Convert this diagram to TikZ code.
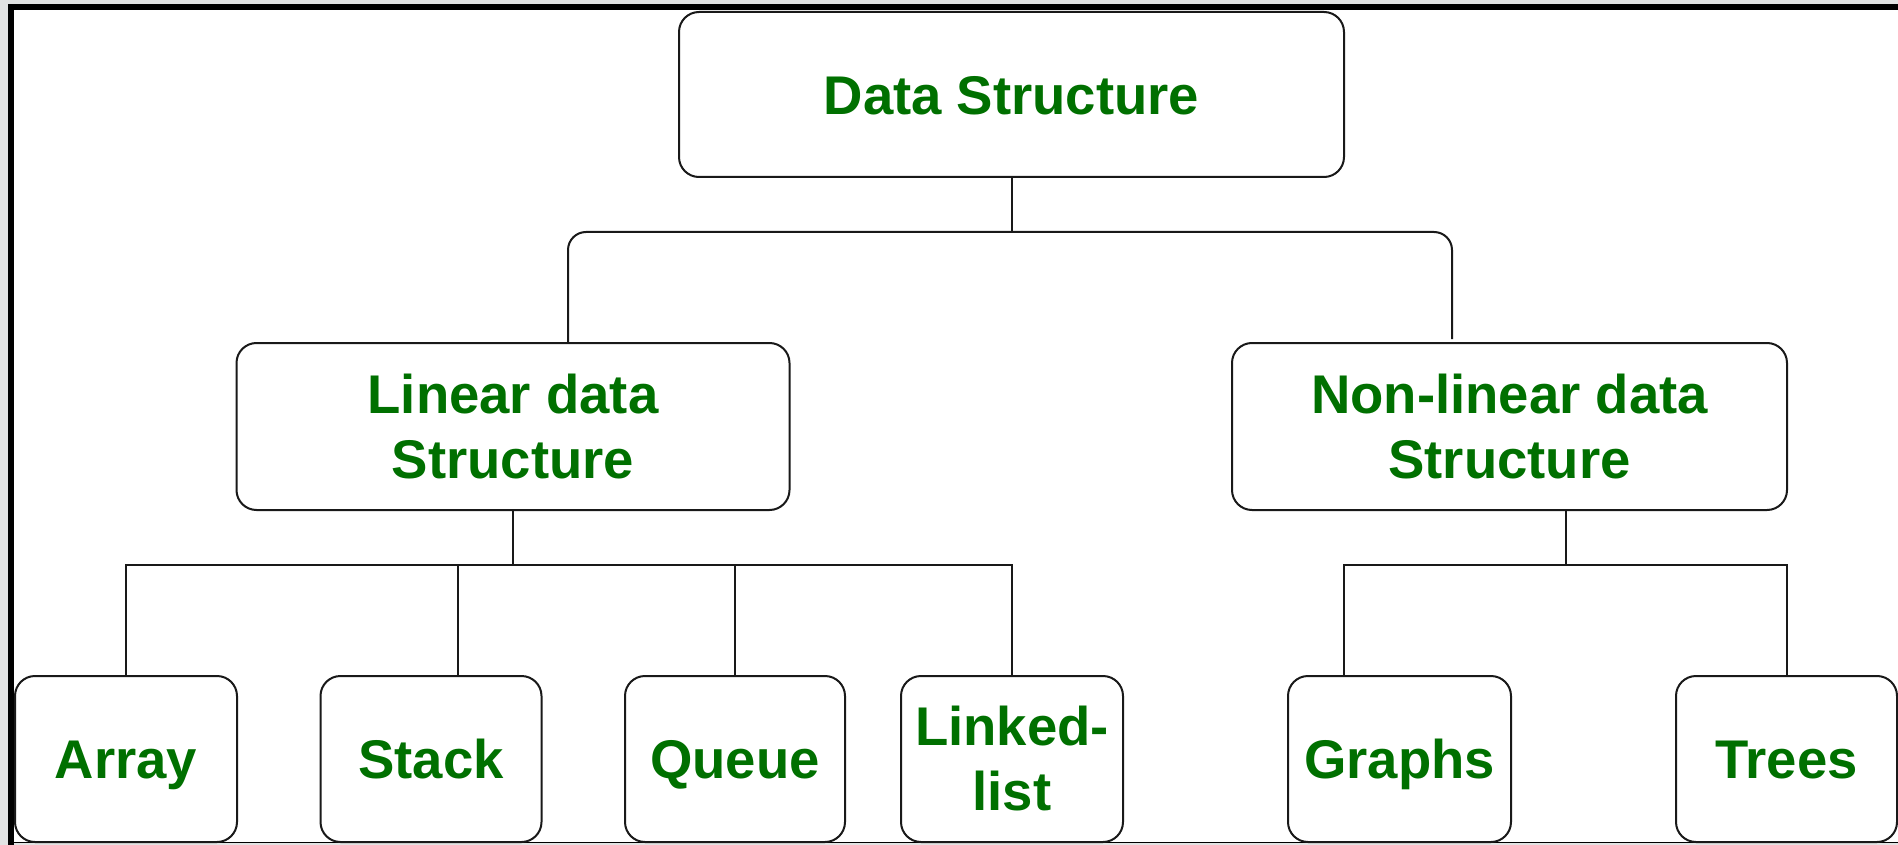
\documentclass[tikz,border=0pt]{standalone}
\usepackage{fontspec}
\setmainfont{Liberation Sans}
\definecolor{txtgreen}{RGB}{0,112,0}
\definecolor{framegray}{RGB}{226,227,227}
\definecolor{boxline}{RGB}{25,25,25}
\begin{document}
\begin{tikzpicture}[x=1pt,y=-1pt,
  box/.style={draw=boxline, line width=2pt, rounded corners=20pt, fill=white,
    inner sep=0pt, minimum height=166pt, text=txtgreen, align=center,
    font=\bfseries\fontsize{54.5}{65}\selectfont},
  oneline/.style={text height=39.1pt, text depth=0pt},
  conn/.style={draw=boxline, line width=2pt}]
\useasboundingbox (0,0) rectangle (1898,845);
% frame
\fill[framegray] (0,0) rectangle (1898,845);
\fill[white] (14,10.5) rectangle (1898,842);
\fill[black] (8,4.5) rectangle (1898,10.5);
\fill[black] (8,4.5) rectangle (14,845);
\fill[black] (14,841.8) rectangle (1898,843.4);
% nodes
\node[box, oneline, minimum width=665pt, minimum height=165pt] (ds) at (1011.5,94.5) {Data Structure};
\node[box, minimum width=553pt, minimum height=167pt] (lin) at (513,426.5) {Linear data\\Structure};
\node[box, minimum width=555pt, minimum height=167pt] (non) at (1509.5,426.5) {Non-linear data\\Structure};
\node[box, oneline, minimum width=222pt] (arr) at (126,759) {Array};
\node[box, oneline, minimum width=221pt] (stk) at (431,759) {Stack};
\node[box, oneline, minimum width=220pt] (que) at (735,759) {Queue};
\node[box, minimum width=222pt] (lk) at (1012,759) {Linked-\\list};
\node[box, oneline, minimum width=223pt] (gra) at (1399.5,759) {Graphs};
\node[box, oneline, minimum width=221pt] (tre) at (1786.5,759) {Trees};
% connectors
\coordinate (topbus) at (1011.5,232);
\coordinate (lbus) at (513,565);
\coordinate (nbus) at (1566,565);
\draw[conn] (ds.south) -- (topbus);
\draw[conn, rounded corners=18pt] ([xshift=55pt]lin.north) |- (topbus) -| ([xshift=-57.5pt,yshift=3pt]non.north);
\draw[conn] (lin.south) -- (lbus);
\draw[conn] (arr.north) |- (lbus) -| (lk.north);
\draw[conn] ([xshift=27pt]stk.north) -- ([xshift=27pt]stk.north |- lbus);
\draw[conn] (que.north) -- (que.north |- lbus);
\draw[conn] ([xshift=56.5pt]non.south) -- (nbus);
\draw[conn] ([xshift=-55.5pt]gra.north) |- (nbus) -| (tre.north);
\end{tikzpicture}
\end{document}
